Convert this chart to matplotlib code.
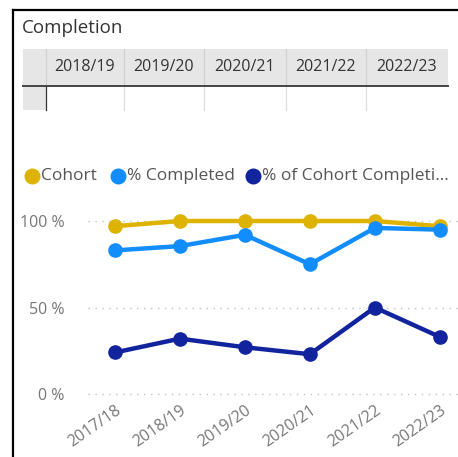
import matplotlib

matplotlib.use("Agg")

import matplotlib.pyplot as plt
from matplotlib.patches import Rectangle

plt.rcParams["font.family"] = ["Open Sans", "DejaVu Sans"]

# data
years = ["2017/18", "2018/19", "2019/20", "2020/21", "2021/22", "2022/23"]
cohort = [97, 100, 100, 100, 100, 97]
pct_completed = [83, 85.5, 92, 75, 96, 95]
pct_cohort_completing = [24, 32, 27, 23, 50, 33]

table_years = ["2018/19", "2019/20", "2020/21", "2021/22", "2022/23"]
series_names = ["Cohort", "% Completed", "% of Cohort Completi..."]
series_colors = ["#DDB300", "#118DFF", "#12239E"]

W, H = 458, 457
fig = plt.figure(figsize=(W / 100, H / 100), dpi=100)

# overlay in pixel coordinates for the frame, title, table and legend
ov = fig.add_axes([0, 0, 1, 1])
ov.set_xlim(0, W)
ov.set_ylim(H, 0)
ov.axis("off")

ov.plot([13, W], [10, 10], color="black", lw=1.6)
ov.plot([13, 13], [10, H], color="black", lw=1.6)
ov.text(22, 28, "Completion", fontsize=13.5, color="#333333", va="center", ha="left")

# table header
col_edges = [23, 46, 124, 204, 286, 366, 448]
ov.add_patch(Rectangle((23, 49), 448 - 23, 36, color="#E6E6E6", lw=0))
ov.add_patch(Rectangle((23, 87), 46 - 23, 23, color="#E6E6E6", lw=0))
for x in col_edges[1:-1]:
    ov.plot([x, x], [49, 85], color="#D0D0D0", lw=0.8)
    ov.plot([x, x], [87, 110], color="#333333" if x == 46 else "#DDDDDD", lw=0.9)
ov.plot([23, 448], [85.5, 85.5], color="#444444", lw=1.4)
for i, label in enumerate(table_years):
    cx = (col_edges[i + 1] + col_edges[i + 2]) / 2
    ov.text(cx, 67, label, fontsize=11.5, color="#333333", ha="center", va="center")

# legend
legend_marker_x = [32, 118, 253]
for name, color, mx in zip(series_names, series_colors, legend_marker_x):
    ov.plot(mx, 175.5, "o", ms=10.5, color=color)
    ov.text(mx + 9, 175.5, name, fontsize=12.5, color="#555555", ha="left", va="center")

# line chart
ax = fig.add_axes([88 / W, (H - 394) / H, (W - 88) / W, 173 / H])
ax.set_zorder(2)
ax.patch.set_alpha(0)
xs = range(len(years))
for values, color in zip([cohort, pct_completed, pct_cohort_completing], series_colors):
    ax.plot(xs, values, "-o", color=color, lw=3.2, ms=9.5, clip_on=False)

ax.set_xlim(-0.415, 5.28)
ax.set_ylim(0, 100)
ax.set_yticks([0, 50, 100])
ax.set_yticklabels(["0 %", "50 %", "100 %"])
ax.set_xticks(list(xs))
ax.set_xticklabels(years, rotation=35, ha="right", rotation_mode="anchor")
ax.tick_params(length=0, labelsize=11.5, labelcolor="#777777")
ax.tick_params(axis="y", pad=17)
ax.tick_params(axis="x", pad=6)
for y in [0, 50, 100]:
    ax.axhline(y, color="#C0C0C0", lw=1, ls=(0, (1, 4)), zorder=0, clip_on=False)
for side in ax.spines.values():
    side.set_visible(False)

fig.savefig("out.png", dpi=100)
